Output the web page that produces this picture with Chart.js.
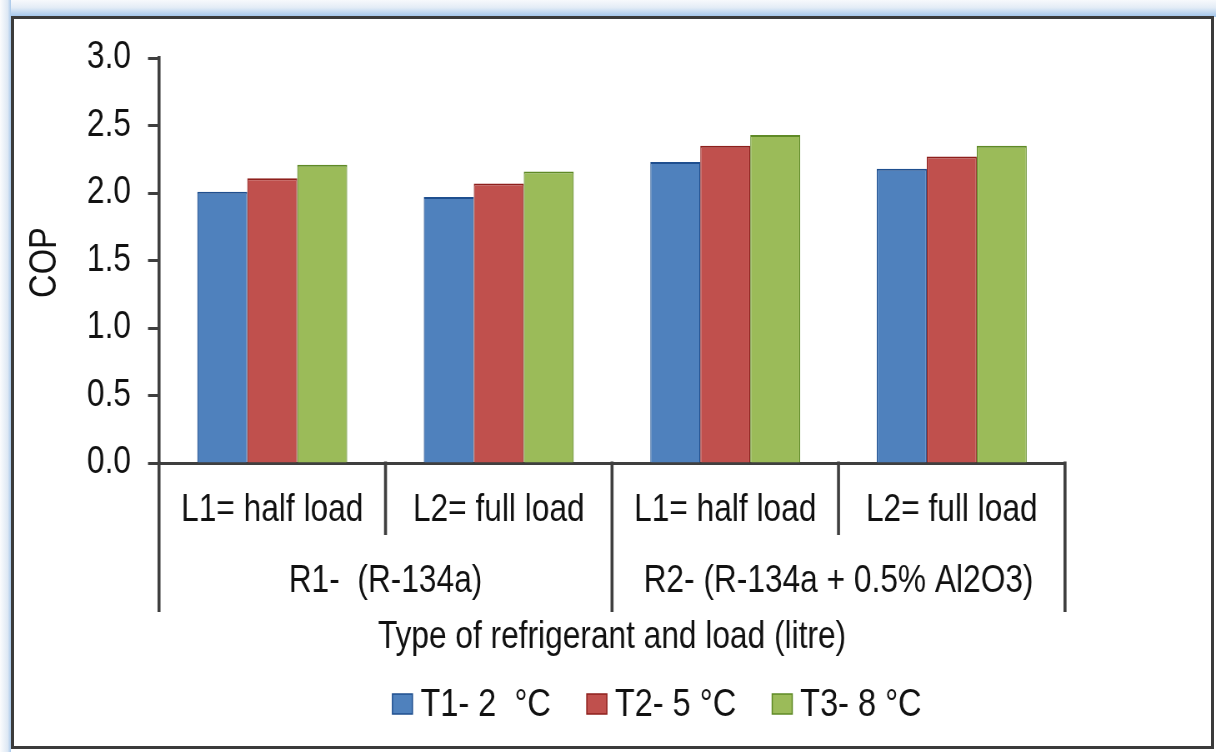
<!DOCTYPE html>
<html><head><meta charset="utf-8">
<script src="https://cdn.jsdelivr.net/npm/chart.js@4.4.1/dist/chart.umd.min.js"></script>
<style>
html,body{margin:0;padding:0;width:1216px;height:752px;overflow:hidden;background:#fff;}
#band{position:absolute;left:0;top:0;width:1216px;height:17px;background:linear-gradient(to bottom,#f7f9fc 0%,#e3ecf6 45%,#9ec3ea 100%);}
#side{position:absolute;left:0;top:0;width:11px;height:752px;background:linear-gradient(to right,#fbfcfd,#dde8f4 70%,#a8c8ea);}
#frame{position:absolute;left:11px;top:16px;width:1197px;height:727px;border:3px solid #3b3b3b;background:#fff;}
#c{position:absolute;left:0;top:0;width:1216px;height:752px;}
</style></head>
<body>
<div id="band"></div><div id="side"></div><div id="frame"></div>
<canvas id="c" width="1459" height="752" style="width:1216px;height:752px"></canvas>
<script>
const categories = ["L1= half load", "L2= full load", "L1= half load", "L2= full load"];
const groups = ["R1-  (R-134a)", "R2- (R-134a + 0.5% Al2O3)"];
const seriesNames = ["T1- 2  °C", "T2- 5 °C", "T3- 8 °C"];
const t1 = [2.01, 1.97, 2.23, 2.18];
const t2 = [2.11, 2.07, 2.35, 2.27];
const t3 = [2.21, 2.16, 2.43, 2.35];
const yTicks = [0, 0.5, 1.0, 1.5, 2.0, 2.5, 3.0];
const yTitle = "COP";
const xTitle = "Type of refrigerant and load (litre)";

// the reference uses a tall, condensed face: draw on a wider canvas squeezed horizontally by CSS
const K = 1459 / 1216;
const X = v => v * K;
const FONT = "'Liberation Sans', Arial, sans-serif";
const AXIS = '#3f3f3f';
const TXT = '#111';
const fills = ['#4f81bd', '#c0504d', '#9bbb59'];
const edges = ['#1f4f8f', '#8e1f1c', '#5f8a26'];

const extras = {
  id: 'extras',
  afterDraw(chart) {
    const ctx = chart.ctx;
    const xs = chart.scales.x;
    const ca = chart.chartArea;
    const n = categories.length;
    const step = (ca.right - ca.left) / n;
    const b = i => ca.left + i * step;
    ctx.save();
    // category separators
    ctx.strokeStyle = AXIS;
    ctx.lineWidth = X(3);
    for (let i = 0; i <= n; i++) {
      const x = b(i);
      const len = (i % 2 === 0) ? 612 : 535;
      ctx.beginPath();
      ctx.moveTo(x, ca.bottom - 1.5);
      ctx.lineTo(x, len);
      ctx.stroke();
    }
    // group labels
    ctx.fillStyle = TXT;
    ctx.font = '38px ' + FONT;
    ctx.textAlign = 'center';
    ctx.textBaseline = 'middle';
    groups.forEach((g, k) => {
      const cx = (xs.getPixelForValue(2 * k) + xs.getPixelForValue(2 * k + 1)) / 2;
      ctx.fillText(g, cx, 582);
    });
    // y title
    ctx.save();
    ctx.translate(X(45), (ca.top + ca.bottom) / 2 + 2);
    ctx.rotate(-Math.PI / 2);
    ctx.scale(0.86, K);
    ctx.font = '38px ' + FONT;
    ctx.fillText(yTitle, 0, 0);
    ctx.restore();
    // legend
    ctx.font = '39px ' + FONT;
    ctx.textAlign = 'left';
    const bw = X(20), bh = 20, gap = X(8), sp = X(36);
    const widths = seriesNames.map(s => bw + gap + ctx.measureText(s).width);
    const total = widths.reduce((a, c) => a + c, 0) + sp * (seriesNames.length - 1);
    let x = X(657) - total / 2;
    const ly = 704;
    seriesNames.forEach((s, i) => {
      ctx.fillStyle = fills[i];
      ctx.fillRect(x, ly - bh / 2, bw, bh);
      ctx.strokeStyle = edges[i];
      ctx.lineWidth = 1.5;
      ctx.strokeRect(x, ly - bh / 2, bw, bh);
      ctx.fillStyle = TXT;
      ctx.fillText(s, x + bw + gap, ly + 1);
      x += widths[i] + sp;
    });
    ctx.restore();
  }
};

new Chart(document.getElementById('c'), {
  type: 'bar',
  data: {
    labels: categories,
    datasets: [t1, t2, t3].map((d, i) => ({
      label: seriesNames[i],
      data: d,
      backgroundColor: fills[i],
      borderColor: edges[i],
      borderWidth: {top: 2, left: 1.2, right: 1.2, bottom: 0},
      categoryPercentage: 0.662,
      barPercentage: 1.0
    }))
  },
  options: {
    responsive: false,
    animation: false,
    devicePixelRatio: 1,
    layout: {padding: {top: 58, left: 0, right: X(1216 - 1065), bottom: 89}},
    plugins: {legend: {display: false}, tooltip: {enabled: false}},
    scales: {
      x: {
        afterFit: s => { s.height = 200; },
        grid: {display: true, drawOnChartArea: false, drawTicks: false, color: 'rgba(0,0,0,0)'},
        border: {display: true, color: AXIS, width: 3},
        ticks: {font: {family: FONT, size: 38}, color: TXT, padding: 25, maxRotation: 0, autoSkip: false},
        title: {display: true, text: xTitle, font: {family: FONT, size: 38}, color: TXT, padding: {top: 0, bottom: 3}}
      },
      y: {
        min: 0, max: 3,
        afterFit: s => { s.width = X(159); },
        afterBuildTicks: s => { s.ticks = yTicks.map(v => ({value: v})); },
        grid: {display: true, drawOnChartArea: false, drawTicks: true, tickLength: X(11), tickColor: AXIS, tickWidth: 3},
        border: {display: true, color: AXIS, width: X(3)},
        ticks: {font: {family: FONT, size: 38}, color: TXT, padding: X(17), callback: v => Number(v).toFixed(1)},
        title: {display: false}
      }
    }
  },
  plugins: [extras]
});
</script>
</body></html>
